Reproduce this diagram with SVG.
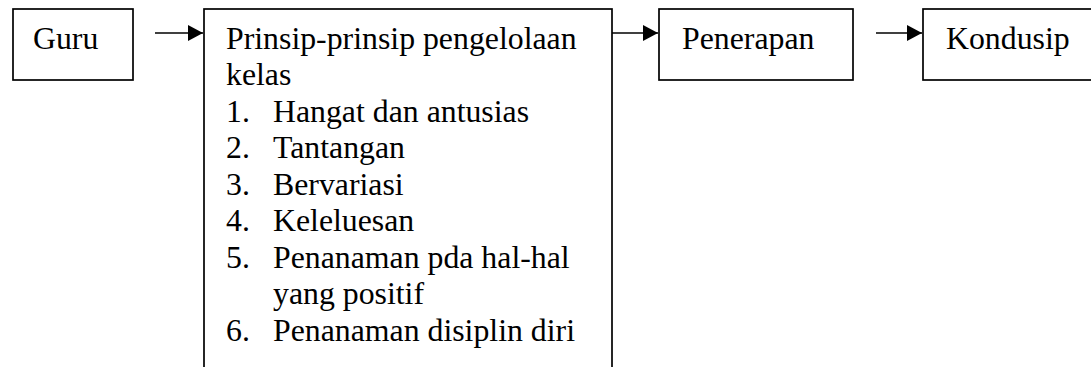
<svg xmlns="http://www.w3.org/2000/svg" width="1091" height="367" viewBox="0 0 1091 367">
<style>
.box{fill:#fff;stroke:#000;stroke-width:1.7}
.t{font-family:"Liberation Serif","Times New Roman",serif;font-size:31.8px;fill:#000}
.c{stroke:#000;stroke-width:1.7;fill:none}
</style>
<defs>
<marker id="ah" markerWidth="15" markerHeight="16" refX="15" refY="8" orient="auto" markerUnits="userSpaceOnUse">
<path d="M0,0 L15,8 L0,16 Z" fill="#000"/>
</marker>
</defs>
<rect width="1091" height="367" fill="#fff"/>
<g id="guru">
<rect class="box" x="13" y="9" width="120" height="71"/>
<text class="t" x="33" y="49">Guru</text>
</g>
<g id="prinsip">
<rect class="box" x="204" y="9" width="408" height="380"/>
<text class="t" x="226" y="49">Prinsip-prinsip pengelolaan</text>
<text class="t" x="226" y="85">kelas</text>
<text class="t" x="226" y="122">1.</text><text class="t" x="273" y="122">Hangat dan antusias</text>
<text class="t" x="226" y="158">2.</text><text class="t" x="273" y="158">Tantangan</text>
<text class="t" x="226" y="195">3.</text><text class="t" x="273" y="195">Bervariasi</text>
<text class="t" x="226" y="231">4.</text><text class="t" x="273" y="231">Keleluesan</text>
<text class="t" x="226" y="268">5.</text><text class="t" x="273" y="268">Penanaman pda hal-hal</text>
<text class="t" x="273" y="304">yang positif</text>
<text class="t" x="226" y="341">6.</text><text class="t" x="273" y="341">Penanaman disiplin diri</text>
</g>
<g id="penerapan">
<rect class="box" x="659" y="9" width="194" height="71"/>
<text class="t" x="682" y="49">Penerapan</text>
</g>
<g id="kondusip">
<rect class="box" x="923" y="9" width="200" height="71"/>
<text class="t" x="946" y="49">Kondusip</text>
</g>
<g id="connectors">
<line class="c" x1="155" y1="33" x2="203" y2="33" marker-end="url(#ah)"/>
<line class="c" x1="612" y1="33" x2="658" y2="33" marker-end="url(#ah)"/>
<line class="c" x1="876" y1="33" x2="922" y2="33" marker-end="url(#ah)"/>
</g>
</svg>
